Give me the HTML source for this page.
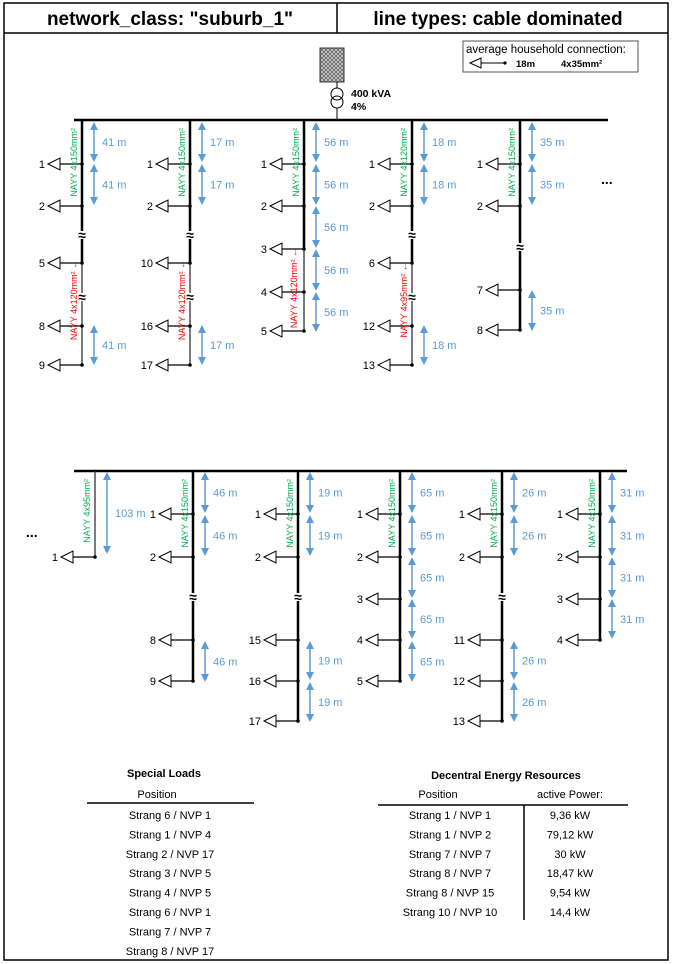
<!DOCTYPE html>
<html><head><meta charset="utf-8">
<style>
body{margin:0;background:#fff;}
svg{display:block;font-family:"Liberation Sans",sans-serif;}
</style></head>
<body>
<svg id="c" width="673" height="964" viewBox="0 0 673 964" xmlns="http://www.w3.org/2000/svg">
<defs>
<pattern id="hatch" width="4" height="4" patternUnits="userSpaceOnUse">
<rect width="4" height="4" fill="#ccc"/><path d="M0,0L4,4M4,0L0,4" stroke="#555" stroke-width="0.7"/>
</pattern>
<marker id="ah" markerWidth="8" markerHeight="8" refX="4" refY="4" orient="auto-start-reverse" markerUnits="userSpaceOnUse">
<path d="M0,0L8,4L0,8z" fill="#5b9bd5"/>
</marker>
</defs>
<rect x="4" y="3" width="664" height="957" fill="none" stroke="#000" stroke-width="1.5"/>
<line x1="4" y1="33" x2="668" y2="33" stroke="#000" stroke-width="1.5"/>
<line x1="337" y1="3" x2="337" y2="33" stroke="#000" stroke-width="1.5"/>
<text x="170" y="25" font-size="19" font-weight="bold" text-anchor="middle">network_class: "suburb_1"</text>
<text x="498" y="25" font-size="19" font-weight="bold" text-anchor="middle">line types: cable dominated</text>

<g>
<rect x="463" y="41" width="175" height="31" fill="#fff" stroke="#555"/>
<text x="466" y="53" font-size="11.5">average household connection:</text>
<polygon points="470,63 481,58 481,68" fill="#fff" stroke="#000"/>
<line x1="481" y1="63" x2="505" y2="63" stroke="#000"/><circle cx="505" cy="63" r="1.6"/>
<text x="516" y="67" font-size="9.5" font-weight="bold">18m</text>
<text x="561" y="67" font-size="9.5" font-weight="bold">4x35mm²</text>
</g>

<g>
<rect x="320" y="48" width="24" height="34" fill="url(#hatch)" stroke="#333"/>
<line x1="337" y1="82" x2="337" y2="88" stroke="#000"/>
<circle cx="337" cy="94" r="6" fill="none" stroke="#000"/>
<circle cx="337" cy="102" r="6" fill="none" stroke="#000"/>
<line x1="337" y1="108" x2="337" y2="120" stroke="#000"/>
<text x="351" y="97" font-size="10.5" font-weight="bold">400 kVA</text>
<text x="351" y="110" font-size="10.5" font-weight="bold">4%</text>
</g>
<g id="g"></g>

<g font-size="11" text-anchor="middle">
<text x="164" y="777" font-weight="bold">Special Loads</text>
<text x="157" y="798">Position</text>
<line x1="87" y1="803" x2="254" y2="803" stroke="#000" stroke-width="1.5"/>
<g id="sl"></g>
</g>
<g font-size="11" text-anchor="middle">
<text x="506" y="779" font-weight="bold">Decentral Energy Resources</text>
<text x="438" y="798">Position</text>
<text x="570" y="798">active Power:</text>
<line x1="378" y1="805" x2="628" y2="805" stroke="#000" stroke-width="1.5"/>
<line x1="524" y1="805" x2="524" y2="920" stroke="#000" stroke-width="1.5"/>
<g id="der"></g>
</g>
</svg>
<script>
const specialLoads=["Strang 6 / NVP 1","Strang 1 / NVP 4","Strang 2 / NVP 17","Strang 3 / NVP 5","Strang 4 / NVP 5","Strang 6 / NVP 1","Strang 7 / NVP 7","Strang 8 / NVP 17"];
const derPositions=["Strang 1 / NVP 1","Strang 1 / NVP 2","Strang 7 / NVP 7","Strang 8 / NVP 7","Strang 8 / NVP 15","Strang 10 / NVP 10"];
const derPower=["9,36 kW","79,12 kW","30 kW","18,47 kW","9,54 kW","14,4 kW"];
// feeders: x, bus y, nodes [label,y], distance labels, breaks, cable texts
const topFeeders=[
 {x:82,nodes:[["1",164],["2",206],["5",263],["8",326],["9",365]],arrows:[[123,161],[165,204],[326,364]],dist:"41 m",breaks:[235,297],thickEnd:263,green:"NAYY 4x150mm²",red:"NAYY 4x120mm² ←"},
 {x:190,nodes:[["1",164],["2",206],["10",263],["16",326],["17",365]],arrows:[[123,161],[165,204],[326,364]],dist:"17 m",breaks:[235,297],thickEnd:263,green:"NAYY 4x150mm²",red:"NAYY 4x120mm² ←"},
 {x:304,nodes:[["1",164],["2",206],["3",249],["4",292],["5",331]],arrows:[[123,161],[165,204],[207,247],[250,290],[293,331]],dist:"56 m",breaks:[],thickEnd:249,green:"NAYY 4x150mm²",red:"NAYY 4x120mm² ←",redAt:[297,288]},
 {x:412,nodes:[["1",164],["2",206],["6",263],["12",326],["13",365]],arrows:[[123,161],[165,204],[326,364]],dist:"18 m",breaks:[235,297],thickEnd:263,green:"NAYY 4x120mm²",red:"NAYY 4x95mm² ←"},
 {x:520,nodes:[["1",164],["2",206],["7",290],["8",330]],arrows:[[123,161],[165,204],[291,330]],dist:"35 m",breaks:[247],thickEnd:330,green:"NAYY 4x150mm²",red:null}
];
const botFeeders=[
 {x:95,nodes:[["1",557]],arrows:[[473,553]],dist:"103 m",breaks:[],thickEnd:471,green:"NAYY 4x95mm²",red:null},
 {x:193,nodes:[["1",514],["2",557],["8",640],["9",681]],arrows:[[473,512],[516,555],[642,681]],dist:"46 m",breaks:[597],thickEnd:681,green:"NAYY 4x150mm²",red:null},
 {x:298,nodes:[["1",514],["2",557],["15",640],["16",681],["17",721]],arrows:[[473,512],[516,555],[642,679],[683,721]],dist:"19 m",breaks:[597],thickEnd:721,green:"NAYY 4x150mm²",red:null},
 {x:400,nodes:[["1",514],["2",557],["3",599],["4",640],["5",681]],arrows:[[473,512],[516,555],[558,597],[600,638],[642,681]],dist:"65 m",breaks:[],thickEnd:681,green:"NAYY 4x150mm²",red:null},
 {x:502,nodes:[["1",514],["2",557],["11",640],["12",681],["13",721]],arrows:[[473,512],[516,555],[642,679],[683,721]],dist:"26 m",breaks:[597],thickEnd:721,green:"NAYY 4x150mm²",red:null},
 {x:600,nodes:[["1",514],["2",557],["3",599],["4",640]],arrows:[[473,512],[516,555],[558,597],[600,638]],dist:"31 m",breaks:[],thickEnd:640,green:"NAYY 4x150mm²",red:null}
];
const NS="http://www.w3.org/2000/svg";
const G=document.getElementById('g');
function mk(t,a,p){const e=document.createElementNS(NS,t);for(const k in a)e.setAttribute(k,a[k]);(p||G).appendChild(e);return e;}
function drawSet(feeders,busY,busX1,busX2,idx0){
 const bus=mk('line',{x1:busX1,y1:busY,x2:busX2,y2:busY,stroke:'#000','stroke-width':2.5});
 
 
 feeders.forEach((f,i)=>{
  const g=mk('g',{});
  
  
  const last=f.nodes[f.nodes.length-1][1];
  const thin=(f.x===95);
  mk('line',{x1:f.x,y1:busY,x2:f.x,y2:f.thickEnd,stroke:'#000','stroke-width':thin?1.2:2.5},g);
  if(f.thickEnd<last)mk('line',{x1:f.x,y1:f.thickEnd,x2:f.x,y2:last,stroke:'#333','stroke-width':1.3},g);
  f.breaks.forEach(b=>{
   mk('rect',{x:f.x-4,y:b-4,width:8,height:8,fill:'#fff'},g);
   const t=mk('text',{x:f.x,y:b+5,'font-size':14,'font-weight':'bold','text-anchor':'middle'},g);t.textContent='≈';
  });
  f.nodes.forEach(n=>{
   const y=n[1],tip=f.x-34;
   const s=mk('g',{},g);
   
   
   mk('polygon',{points:`${tip},${y} ${tip+12},${y-6} ${tip+12},${y+6}`,fill:'#fff',stroke:'#000'},s);
   mk('line',{x1:tip+12,y1:y,x2:f.x,y2:y,stroke:'#000','stroke-width':1.2},s);
   mk('circle',{cx:f.x,cy:y,r:1.8},s);
   const t=mk('text',{x:tip-3,y:y+4,'font-size':11,'text-anchor':'end'},s);t.textContent=n[0];
  });
  f.arrows.forEach(a=>{
   const ax=f.x+12;
   const l=mk('line',{x1:ax,y1:a[0]+3,x2:ax,y2:a[1]-3,stroke:'#5b9bd5','stroke-width':1.5,'marker-start':'url(#ah)','marker-end':'url(#ah)'},g);
   
   
   const t=mk('text',{x:ax+8,y:(a[0]+a[1])/2+4,'font-size':11,fill:'#5b9bd5'},g);t.textContent=f.dist;
  });
  const gy=busY+8;
  const gt=mk('text',{transform:`translate(${f.x-5},${gy}) rotate(-90)`,'font-size':9,fill:'#00b050','text-anchor':'end'},g);
  gt.textContent=f.green;
  
  
  if(f.red){
   const rx=f.redAt?f.redAt[0]:f.x-5, ry=f.redAt?f.redAt[1]:300;
   const rt=mk('text',{transform:`translate(${rx},${ry}) rotate(-90)`,'font-size':9,fill:'#ff0000','text-anchor':'middle'},g);
   rt.textContent=f.red;
   
   
  }
 });
}
drawSet(topFeeders,120,74,608,1);
drawSet(botFeeders,471,74,627,6);
function dots(x,y){const t=mk('text',{x:x,y:y,'font-size':14,'font-weight':'bold'});t.textContent='...';

}
dots(601,184);dots(26,537);
const SL=document.getElementById('sl');
specialLoads.forEach((s,i)=>{const t=mk('text',{x:170,y:819+i*19.4},SL);t.textContent=s;

});
const D=document.getElementById('der');
derPositions.forEach((s,i)=>{const t=mk('text',{x:450,y:819+i*19.4},D);t.textContent=s;


const p=mk('text',{x:570,y:819+i*19.4},D);p.textContent=derPower[i];

});
</script>
</body></html>
